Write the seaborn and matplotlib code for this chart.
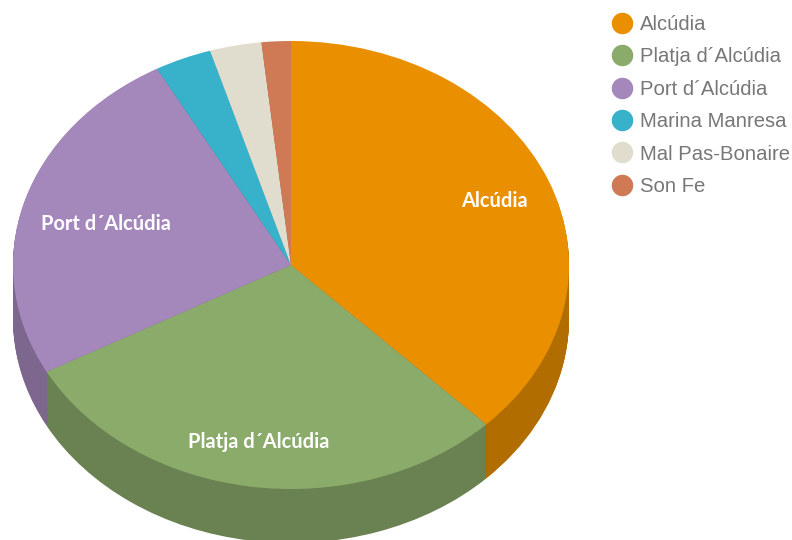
import numpy as np
import matplotlib
matplotlib.use("Agg")
import matplotlib.pyplot as plt
from matplotlib.lines import Line2D
import seaborn as sns

# Share of each locality, clockwise from twelve o'clock
zones = ["Alcúdia", "Platja d´Alcúdia", "Port d´Alcúdia",
         "Marina Manresa", "Mal Pas-Bonaire", "Son Fe"]
shares = [37.6, 29.5, 24.9, 3.3, 3.0, 1.7]
hex_colors = ["#EA9000", "#8BAB6B", "#A487BB", "#38B1CB", "#E1DDCE", "#CF7A55"]
slice_labels = ["Alcúdia", "Platja d´Alcúdia", "Port d´Alcúdia", "", "", ""]
label_radius = [0.79, 0.787, 0.695, 0, 0, 0]

WIDTH, HEIGHT = 792, 540
CX, CY, RX, RY, DEPTH = 291, 265, 278, 224, 54

sns.set_theme(style="white")
palette = sns.color_palette(hex_colors)
wall_palette = [tuple(c * 0.76 for c in col) for col in palette]

fig = plt.figure(figsize=(WIDTH / 100, HEIGHT / 100), dpi=100, facecolor="white")
ax = fig.add_axes([0, 0, 1, 1])

# Side wall: the same pie stacked downwards in a darker shade
for step in range(DEPTH, 0, -1):
    ax.pie(shares, colors=wall_palette, startangle=90, counterclock=False,
           center=(0, -step / RY), normalize=True,
           wedgeprops=dict(linewidth=0.4, edgecolor="none"))

# Top face
wedges, _ = ax.pie(shares, colors=palette, startangle=90, counterclock=False,
                   center=(0, 0), normalize=True, wedgeprops=dict(linewidth=0))

ax.set_aspect("auto")
ax.set_xlim(-CX / RX, (WIDTH - CX) / RX)
ax.set_ylim(-(HEIGHT - CY) / RY, CY / RY)
ax.axis("off")

# Slice captions sit along each wedge's mid-angle
for wedge, text, r in zip(wedges, slice_labels, label_radius):
    if text:
        mid = np.deg2rad((wedge.theta1 + wedge.theta2) / 2)
        ax.annotate(text, (r * np.cos(mid), r * np.sin(mid)),
                    xytext=(0, -2), textcoords="offset points", color="white",
                    family="Lato", fontweight="bold", fontsize=14.4,
                    ha="center", va="center")

handles = [Line2D([], [], linestyle="none", marker="o", markersize=15.5,
                  markerfacecolor=c, markeredgecolor="none") for c in palette]
ax.legend(handles, zones, loc="upper left", bbox_to_anchor=(606.8 / WIDTH, 1 - 15 / HEIGHT),
          frameon=False, prop=dict(family="Liberation Sans", size=14.6),
          labelcolor="#777777", labelspacing=0.66, handletextpad=0.14,
          handlelength=1.5, borderaxespad=0, borderpad=0)

fig.savefig("out.png", dpi=100, facecolor="white")
